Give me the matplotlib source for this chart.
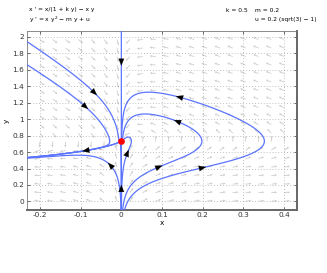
import numpy as np
import matplotlib
matplotlib.use("Agg")
import matplotlib.pyplot as plt

# parameters of the system
k = 0.5
m = 0.2
u = 0.2 * (np.sqrt(3) - 1)

# trajectory seeds
seed_x = [-0.066, -0.088, -0.003, -0.027, 0.200, 0.093, 0.015, 0.0, 0.0]
seed_y = [1.32, 1.15, 0.724, 0.44, 0.41, 0.42, 0.59, 1.69, 0.16]

# arrow positions along trajectories
arrow_x = [-0.066, -0.088, -0.088, -0.027, 0.200, 0.143, 0.093, 0.137, 0.015, 0.0, 0.0]
arrow_y = [1.32, 1.15, 0.625, 0.44, 0.41, 1.27, 0.42, 0.97, 0.59, 1.69, 0.16]

xticks = [-0.2, -0.1, 0, 0.1, 0.2, 0.3, 0.4]
yticks = [0, 0.2, 0.4, 0.6, 0.8, 1.0, 1.2, 1.4, 1.6, 1.8, 2.0]
xlim = (-0.232, 0.432)
ylim = (-0.10, 2.07)

plt.rcParams['axes.unicode_minus'] = False


def f(x, y):
    return x / (1 + k * y) - x * y, x * y * y - m * y + u


def integrate(x0, y0, dt, tmax):
    xs, ys = [x0], [y0]
    x, y = x0, y0
    eq = u / m
    n = int(tmax / abs(dt))
    for _ in range(n):
        k1 = f(x, y)
        k2 = f(x + dt / 2 * k1[0], y + dt / 2 * k1[1])
        k3 = f(x + dt / 2 * k2[0], y + dt / 2 * k2[1])
        k4 = f(x + dt * k3[0], y + dt * k3[1])
        x += dt / 6 * (k1[0] + 2 * k2[0] + 2 * k3[0] + k4[0])
        y += dt / 6 * (k1[1] + 2 * k2[1] + 2 * k3[1] + k4[1])
        xs.append(x)
        ys.append(y)
        if x < xlim[0] - 0.02 or x > xlim[1] + 0.02 or y < ylim[0] - 0.05 or y > ylim[1] + 0.05:
            break
        if abs(x) < 0.002 and abs(y - eq) < 0.004:
            break
    return np.array(xs), np.array(ys)


fig = plt.figure(figsize=(3.27, 2.73), dpi=100)
ax = fig.add_axes([27 / 327, 1 - 209.7 / 273, 270 / 327, 178.7 / 273])

# direction field
gx = np.linspace(xlim[0], xlim[1], 22)[1:-1]
gy = np.linspace(ylim[0], ylim[1], 22)[1:-1]
GX, GY = np.meshgrid(gx, gy)
U, V = f(GX, GY)
sx = 270 / (xlim[1] - xlim[0])
sy = 178.7 / (ylim[1] - ylim[0])
L = np.hypot(U * sx, V * sy)
L[L == 0] = 1
ax.quiver(GX, GY, U * sx / L, V * sy / L, color='#cccccc', angles='uv',
          scale=46, width=0.003, headwidth=3, headlength=3, headaxislength=2.7, zorder=1)

# trajectories
all_x, all_y = [], []
for sx0, sy0 in zip(seed_x, seed_y):
    fx, fy = integrate(sx0, sy0, 0.01, 400)
    bx, by = integrate(sx0, sy0, -0.01, 400)
    xs = np.concatenate([bx[::-1], fx[1:]])
    ys = np.concatenate([by[::-1], fy[1:]])
    all_x.append(xs)
    all_y.append(ys)
    ax.plot(xs, ys, color='#5b74ff', lw=0.9, zorder=3)
all_x = np.concatenate(all_x)
all_y = np.concatenate(all_y)

# arrows, snapped onto the nearest trajectory point
for ax0, ay0 in zip(arrow_x, arrow_y):
    d = np.hypot((all_x - ax0) * sx, (all_y - ay0) * sy)
    i = np.argmin(d)
    px, py = all_x[i], all_y[i]
    du, dv = f(px, py)
    n = np.hypot(du * sx, dv * sy)
    dx, dy = du * sx / n, dv * sy / n
    ax.annotate('', xy=(px + dx * 3.5 / sx, py + dy * 3.5 / sy),
                xytext=(px - dx * 3.5 / sx, py - dy * 3.5 / sy),
                arrowprops=dict(arrowstyle='-|>,head_length=0.5,head_width=0.2',
                                color='k', lw=0.1, shrinkA=0, shrinkB=0), zorder=5)

# equilibrium
ax.plot([0], [u / m], 'o', color='red', ms=3.8, zorder=6)

ax.set_xlim(*xlim)
ax.set_ylim(*ylim)
ax.set_xticks(xticks)
ax.set_yticks(yticks)
ax.set_xticklabels(['%g' % t for t in xticks])
ax.set_yticklabels(['%g' % t for t in yticks])
ax.tick_params(direction='in', length=2.5, labelsize=5.3, pad=2, top=True, right=True,
               width=0.5, colors='#333333')
ax.grid(True, linestyle=(0, (1, 2.5)), color='#aaaaaa', lw=0.6)
for side in ['left', 'top']:
    ax.spines[side].set_linewidth(0.6)
    ax.spines[side].set_color('#777777')
for side in ['bottom', 'right']:
    ax.spines[side].set_linewidth(1.4)
    ax.spines[side].set_color('#666666')
ax.set_xlabel('x', fontsize=5.3, labelpad=1)
ax.set_ylabel('y', fontsize=5.3, labelpad=2)

fs = 4.3
fig.text(29 / 327, 1 - 10 / 273, "x ' = x/(1 + k y) \u2212 x y", fontsize=fs, va='center')
fig.text(29 / 327, 1 - 20 / 273, "y ' = x y$^2$ \u2212 m y + u", fontsize=fs, va='center')
fig.text(226 / 327, 1 - 10 / 273, "k = 0.5", fontsize=fs, va='center')
fig.text(255 / 327, 1 - 10 / 273, "m = 0.2", fontsize=fs, va='center')
fig.text(255 / 327, 1 - 20 / 273, "u = 0.2 (sqrt(3) \u2212 1)", fontsize=fs, va='center')

fig.savefig('out.png', dpi=100)
